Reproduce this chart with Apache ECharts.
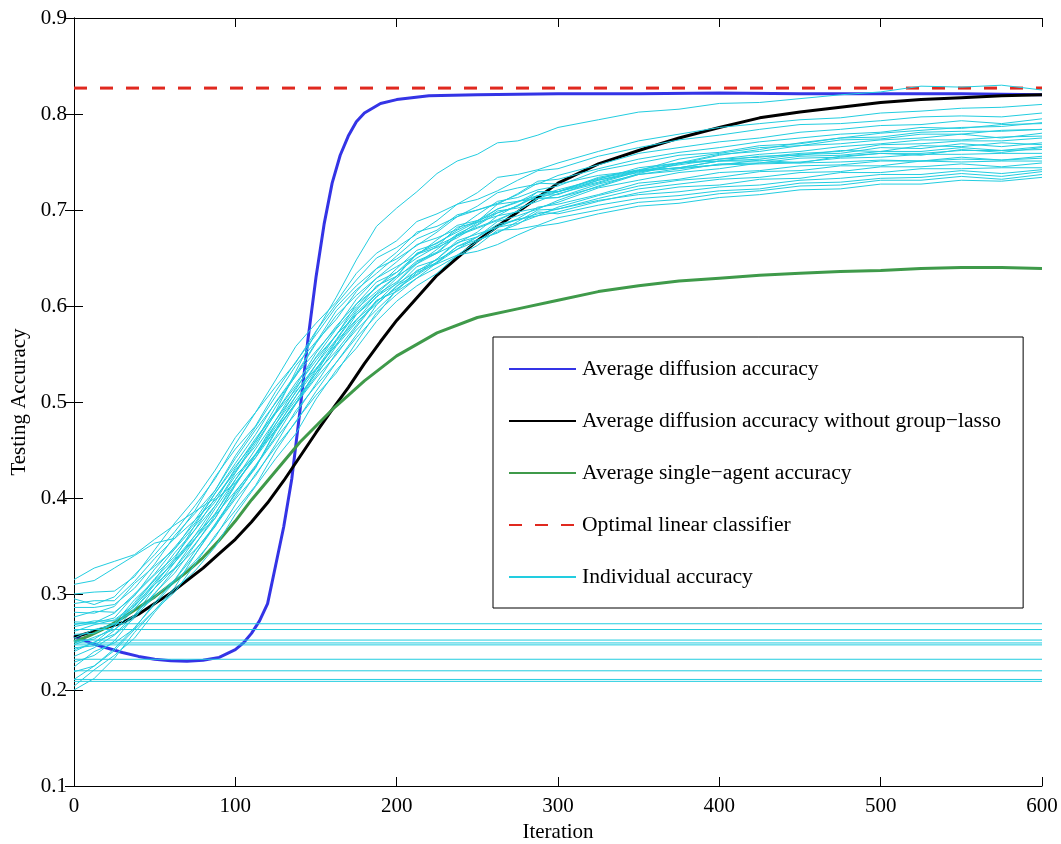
<!DOCTYPE html>
<html>
<head>
<meta charset="utf-8">
<script src="https://cdn.jsdelivr.net/npm/echarts@6/dist/echarts.min.js"></script>
<style>
  html, body { margin: 0; padding: 0; background: #fff; }
  #chart { width: 1061px; height: 844px; }
</style>
</head>
<body>
<div id="chart"></div>
<script>
// ---------------- data ----------------
const xTicks = [0, 100, 200, 300, 400, 500, 600];
const yTicks = [0.1, 0.2, 0.3, 0.4, 0.5, 0.6, 0.7, 0.8, 0.9];

// Average diffusion accuracy  [iteration, accuracy]
const blueCurve = [[0,0.256],[10,0.249],[20,0.244],[30,0.239],[40,0.235],[50,0.232],[60,0.2305],[70,0.230],[80,0.231],[90,0.234],[100,0.242],[105,0.249],[110,0.259],[115,0.272],[120,0.290],[125,0.330],[130,0.370],[135,0.420],[140,0.490],[145,0.565],[150,0.630],[155,0.685],[160,0.728],[165,0.757],[170,0.777],[175,0.792],[180,0.801],[190,0.811],[200,0.815],[220,0.819],[250,0.820],[300,0.821],[350,0.821],[400,0.822],[450,0.821],[500,0.821],[550,0.821],[600,0.820]];

// Average diffusion accuracy without group-lasso
const blackCurve = [[0,0.255],[10,0.260],[20,0.265],[30,0.270],[40,0.279],[50,0.290],[60,0.301],[70,0.314],[80,0.327],[90,0.342],[100,0.357],[110,0.375],[120,0.395],[130,0.418],[140,0.443],[150,0.468],[160,0.492],[170,0.515],[180,0.540],[190,0.563],[200,0.585],[225,0.632],[250,0.668],[275,0.698],[300,0.728],[325,0.748],[350,0.762],[375,0.775],[400,0.786],[425,0.796],[450,0.802],[475,0.807],[500,0.812],[525,0.815],[550,0.817],[575,0.819],[600,0.820]];

// Average single-agent accuracy
const greenCurve = [[0,0.250],[10,0.257],[20,0.265],[30,0.275],[40,0.286],[50,0.297],[60,0.310],[70,0.323],[80,0.338],[90,0.356],[100,0.376],[110,0.398],[120,0.418],[130,0.438],[140,0.458],[150,0.475],[160,0.492],[170,0.507],[180,0.522],[190,0.535],[200,0.548],[225,0.572],[250,0.588],[275,0.597],[300,0.606],[325,0.615],[350,0.621],[375,0.626],[400,0.629],[425,0.632],[450,0.634],[475,0.636],[500,0.637],[525,0.639],[550,0.640],[575,0.640],[600,0.639]];

// Optimal linear classifier
const optimalLevel = 0.827;

// Individual accuracy curves sampled at these iterations
const iters = [0,12.5,25,37.5,50,62.5,75,87.5,100,112.5,125,137.5,150,162.5,175,187.5,200,212.5,225,237.5,250,262.5,275,287.5,300,325,350,375,400,425,450,475,500,525,550,575,600];
const ind01 = [0.315,0.327,0.334,0.341,0.357,0.372,0.386,0.400,0.427,0.460,0.490,0.532,0.573,0.609,0.648,0.683,0.702,0.719,0.738,0.751,0.758,0.770,0.772,0.778,0.786,0.794,0.802,0.805,0.811,0.812,0.816,0.820,0.823,0.829,0.828,0.830,0.825];
const ind02 = [0.310,0.314,0.327,0.340,0.353,0.358,0.377,0.398,0.416,0.442,0.471,0.499,0.530,0.563,0.586,0.604,0.624,0.644,0.655,0.673,0.681,0.689,0.699,0.712,0.713,0.727,0.737,0.743,0.747,0.752,0.749,0.756,0.759,0.757,0.763,0.760,0.765];
const ind03 = [0.300,0.302,0.303,0.318,0.346,0.374,0.399,0.429,0.463,0.489,0.523,0.558,0.582,0.604,0.634,0.655,0.668,0.688,0.696,0.706,0.718,0.734,0.737,0.742,0.749,0.761,0.772,0.779,0.786,0.790,0.794,0.796,0.801,0.803,0.806,0.807,0.810];
const ind04 = [0.295,0.289,0.297,0.320,0.341,0.365,0.392,0.420,0.456,0.489,0.516,0.541,0.574,0.602,0.627,0.650,0.661,0.675,0.689,0.706,0.711,0.720,0.731,0.741,0.743,0.756,0.765,0.773,0.778,0.784,0.789,0.790,0.793,0.797,0.798,0.797,0.801];
const ind05 = [0.290,0.293,0.293,0.313,0.337,0.358,0.387,0.422,0.451,0.475,0.511,0.542,0.570,0.599,0.621,0.639,0.656,0.677,0.683,0.693,0.704,0.718,0.723,0.727,0.736,0.747,0.759,0.765,0.771,0.775,0.781,0.784,0.788,0.789,0.793,0.790,0.795];
const ind06 = [0.286,0.286,0.289,0.306,0.331,0.361,0.384,0.408,0.444,0.474,0.506,0.538,0.563,0.586,0.615,0.639,0.649,0.663,0.677,0.693,0.700,0.706,0.717,0.730,0.732,0.743,0.753,0.760,0.765,0.771,0.775,0.779,0.781,0.786,0.785,0.789,0.790];
const ind07 = [0.281,0.280,0.287,0.311,0.329,0.347,0.377,0.408,0.441,0.471,0.499,0.527,0.561,0.590,0.611,0.629,0.646,0.664,0.671,0.680,0.695,0.709,0.713,0.721,0.725,0.741,0.749,0.757,0.760,0.767,0.769,0.775,0.776,0.781,0.782,0.782,0.784];
const ind08 = [0.276,0.282,0.281,0.298,0.326,0.349,0.374,0.405,0.433,0.459,0.495,0.528,0.553,0.577,0.607,0.629,0.641,0.653,0.669,0.684,0.689,0.701,0.709,0.715,0.721,0.732,0.744,0.749,0.758,0.761,0.767,0.769,0.773,0.775,0.779,0.775,0.780];
const ind09 = [0.271,0.270,0.280,0.300,0.321,0.347,0.371,0.396,0.431,0.462,0.489,0.517,0.551,0.579,0.602,0.619,0.639,0.658,0.665,0.679,0.689,0.697,0.704,0.719,0.719,0.731,0.739,0.749,0.753,0.758,0.761,0.766,0.769,0.773,0.773,0.776,0.777];
const ind10 = [0.266,0.270,0.275,0.299,0.320,0.339,0.367,0.400,0.429,0.454,0.489,0.520,0.546,0.569,0.602,0.625,0.635,0.654,0.666,0.677,0.688,0.706,0.709,0.712,0.719,0.733,0.741,0.747,0.753,0.755,0.759,0.761,0.768,0.769,0.772,0.772,0.775];
const ind11 = [0.261,0.268,0.273,0.289,0.315,0.343,0.367,0.392,0.426,0.457,0.488,0.513,0.547,0.576,0.599,0.620,0.635,0.650,0.662,0.682,0.687,0.694,0.705,0.715,0.719,0.729,0.741,0.744,0.751,0.753,0.758,0.759,0.765,0.764,0.769,0.766,0.770];
const ind12 = [0.258,0.259,0.269,0.294,0.314,0.333,0.361,0.392,0.423,0.445,0.481,0.515,0.543,0.570,0.597,0.615,0.631,0.655,0.663,0.673,0.687,0.701,0.708,0.719,0.719,0.734,0.742,0.749,0.751,0.756,0.757,0.762,0.761,0.767,0.766,0.770,0.768];
const ind13 = [0.254,0.263,0.268,0.284,0.310,0.336,0.361,0.383,0.419,0.451,0.481,0.510,0.539,0.565,0.595,0.621,0.631,0.644,0.659,0.675,0.685,0.699,0.702,0.709,0.717,0.728,0.740,0.744,0.751,0.751,0.756,0.757,0.761,0.761,0.765,0.762,0.766];
const ind14 = [0.250,0.253,0.266,0.288,0.310,0.327,0.357,0.389,0.419,0.446,0.477,0.506,0.539,0.570,0.591,0.609,0.629,0.647,0.656,0.674,0.682,0.690,0.699,0.712,0.713,0.724,0.737,0.741,0.748,0.749,0.754,0.755,0.759,0.759,0.762,0.762,0.763];
const ind15 = [0.247,0.255,0.263,0.278,0.306,0.333,0.357,0.384,0.415,0.442,0.477,0.511,0.535,0.559,0.591,0.612,0.625,0.646,0.655,0.665,0.677,0.694,0.698,0.702,0.708,0.723,0.731,0.739,0.743,0.749,0.750,0.754,0.755,0.758,0.758,0.759,0.759];
const ind16 = [0.244,0.246,0.262,0.285,0.306,0.327,0.352,0.379,0.413,0.445,0.471,0.498,0.533,0.560,0.585,0.610,0.623,0.636,0.649,0.668,0.675,0.682,0.691,0.703,0.706,0.716,0.728,0.732,0.739,0.741,0.746,0.747,0.751,0.751,0.755,0.752,0.756];
const ind17 = [0.240,0.250,0.258,0.278,0.301,0.322,0.351,0.382,0.407,0.432,0.469,0.499,0.527,0.558,0.583,0.602,0.620,0.641,0.648,0.659,0.672,0.685,0.690,0.694,0.703,0.715,0.725,0.731,0.734,0.740,0.741,0.746,0.746,0.751,0.750,0.751,0.751];
const ind18 = [0.235,0.244,0.257,0.275,0.300,0.326,0.346,0.370,0.406,0.434,0.464,0.498,0.525,0.549,0.578,0.605,0.618,0.632,0.646,0.662,0.669,0.676,0.688,0.700,0.701,0.712,0.722,0.727,0.732,0.734,0.739,0.740,0.745,0.745,0.748,0.745,0.749];
const ind19 = [0.229,0.236,0.251,0.277,0.297,0.315,0.345,0.372,0.401,0.433,0.462,0.488,0.519,0.551,0.575,0.596,0.616,0.635,0.644,0.653,0.667,0.682,0.686,0.694,0.698,0.709,0.718,0.724,0.726,0.732,0.733,0.739,0.739,0.743,0.743,0.744,0.744];
const ind20 = [0.224,0.240,0.249,0.264,0.291,0.315,0.341,0.371,0.399,0.423,0.456,0.491,0.517,0.541,0.570,0.601,0.621,0.633,0.649,0.666,0.672,0.683,0.690,0.696,0.701,0.710,0.716,0.719,0.724,0.726,0.731,0.733,0.737,0.737,0.741,0.738,0.742];
const ind21 = [0.219,0.225,0.243,0.265,0.289,0.313,0.334,0.359,0.393,0.425,0.453,0.479,0.511,0.541,0.567,0.590,0.617,0.637,0.645,0.659,0.668,0.677,0.685,0.698,0.696,0.705,0.712,0.715,0.720,0.722,0.728,0.729,0.733,0.734,0.738,0.735,0.740];
const ind22 = [0.211,0.225,0.241,0.263,0.283,0.302,0.331,0.361,0.387,0.413,0.449,0.480,0.507,0.530,0.562,0.593,0.612,0.629,0.640,0.652,0.663,0.679,0.680,0.684,0.692,0.700,0.708,0.711,0.717,0.720,0.725,0.726,0.731,0.731,0.735,0.732,0.737];
const ind23 = [0.204,0.221,0.236,0.254,0.281,0.305,0.324,0.349,0.383,0.412,0.441,0.467,0.503,0.533,0.556,0.584,0.605,0.621,0.634,0.653,0.657,0.664,0.674,0.683,0.686,0.696,0.704,0.707,0.713,0.716,0.721,0.722,0.727,0.727,0.731,0.730,0.734];
const ind24 = [0.200,0.212,0.233,0.260,0.283,0.307,0.341,0.373,0.404,0.431,0.471,0.506,0.534,0.564,0.593,0.613,0.631,0.654,0.661,0.671,0.684,0.697,0.704,0.715,0.716,0.731,0.741,0.753,0.759,0.765,0.767,0.773,0.774,0.779,0.779,0.783,0.784];
const ind25 = [0.268,0.272,0.272,0.287,0.312,0.335,0.358,0.379,0.414,0.445,0.474,0.502,0.530,0.553,0.580,0.606,0.615,0.629,0.645,0.662,0.672,0.688,0.694,0.701,0.710,0.725,0.738,0.748,0.757,0.763,0.770,0.775,0.780,0.783,0.786,0.787,0.791];
const ind26 = [0.242,0.249,0.266,0.291,0.316,0.337,0.372,0.405,0.436,0.466,0.500,0.529,0.562,0.595,0.617,0.634,0.652,0.670,0.679,0.695,0.700,0.707,0.716,0.728,0.727,0.736,0.741,0.744,0.747,0.748,0.749,0.750,0.752,0.751,0.753,0.752,0.754];
const individualCurves = [ind01,ind02,ind03,ind04,ind05,ind06,ind07,ind08,ind09,ind10,ind11,ind12,ind13,ind14,ind15,ind16,ind17,ind18,ind19,ind20,ind21,ind22,ind23,ind24,ind25,ind26];

// Individual agents whose accuracy stays flat
const flatLevels = [0.269,0.263,0.252,0.249,0.247,0.232,0.220,0.211,0.209];

const names = ['Average diffusion accuracy','Average diffusion accuracy without group\u2212lasso','Average single\u2212agent accuracy','Optimal linear classifier','Individual accuracy'];

// ---------------- chart ----------------
const FONT = '"Liberation Serif","Times New Roman",Times,serif';
const CYAN = '#22cde0';
const chart = echarts.init(document.getElementById('chart'), null, {renderer: 'canvas'});

const series = [];
series.push({name: names[0], type: 'line', data: blueCurve, showSymbol: false, symbol: 'none', z: 3,
  lineStyle: {color: '#3434e6', width: 3}, itemStyle: {color: '#3434e6'}});
series.push({name: names[1], type: 'line', data: blackCurve, showSymbol: false, symbol: 'none', z: 3,
  lineStyle: {color: '#000000', width: 3}, itemStyle: {color: '#000000'}});
series.push({name: names[2], type: 'line', data: greenCurve, showSymbol: false, symbol: 'none', z: 3,
  lineStyle: {color: '#3f9a4a', width: 3}, itemStyle: {color: '#3f9a4a'}});
series.push({name: names[3], type: 'line', data: [[xTicks[0], optimalLevel], [xTicks[xTicks.length-1], optimalLevel]], showSymbol: false, symbol: 'none', z: 3,
  lineStyle: {color: '#e0291f', width: 3, type: [13, 13]}, itemStyle: {color: '#e0291f'}});
individualCurves.forEach(arr => {
  series.push({name: names[4], type: 'line', data: iters.map((x, i) => [x, arr[i]]), showSymbol: false, symbol: 'none', z: 4,
    lineStyle: {color: CYAN, width: 1}, itemStyle: {color: CYAN}});
});
flatLevels.forEach(v => {
  series.push({name: names[4], type: 'line', data: [[xTicks[0], v], [xTicks[xTicks.length-1], v]], showSymbol: false, symbol: 'none', z: 4,
    lineStyle: {color: CYAN, width: 1}, itemStyle: {color: CYAN}});
});

const axisLineCfg = {show: true, lineStyle: {color: '#000', width: 1}};
const tickCfg = {show: true, inside: true, length: 9, lineStyle: {color: '#000', width: 1}};

chart.setOption({
  animation: false,
  backgroundColor: '#fff',
  grid: {left: 74, right: 19, top: 18, bottom: 58, containLabel: false, outerBoundsMode: 'none'},
  legend: {
    data: names, orient: 'vertical', left: 493, top: 337,
    itemWidth: 67, itemHeight: 21, itemGap: 30,
    padding: [21, 22, 20, 15],
    borderColor: '#000', borderWidth: 1, backgroundColor: '#fff',
    selectedMode: false,
    itemStyle: {opacity: 0},
    textStyle: {fontFamily: FONT, fontSize: 21.6, color: '#000', lineHeight: 21, padding: [0, 0, 0, 1]}
  },
  xAxis: [
    {type: 'value', min: xTicks[0], max: xTicks[xTicks.length-1], interval: 100, position: 'bottom',
     axisLine: axisLineCfg, axisTick: tickCfg, splitLine: {show: false},
     axisLabel: {color: '#000', fontFamily: FONT, fontSize: 21, margin: 10},
     name: 'Iteration', nameLocation: 'middle', nameGap: 36,
     nameTextStyle: {color: '#000', fontFamily: FONT, fontSize: 21}},
    {type: 'value', min: xTicks[0], max: xTicks[xTicks.length-1], interval: 100, position: 'top',
     axisLine: axisLineCfg, axisTick: tickCfg, splitLine: {show: false}, axisLabel: {show: false}}
  ],
  yAxis: [
    {type: 'value', min: yTicks[0], max: yTicks[yTicks.length-1], interval: 0.1, position: 'left',
     axisLine: axisLineCfg, axisTick: tickCfg, splitLine: {show: false},
     axisLabel: {color: '#000', fontFamily: FONT, fontSize: 21, margin: 7, formatter: v => v.toFixed(1)},
     name: 'Testing Accuracy', nameLocation: 'middle', nameGap: 42,
     nameTextStyle: {color: '#000', fontFamily: FONT, fontSize: 21}},
    {type: 'value', min: yTicks[0], max: yTicks[yTicks.length-1], interval: 0.1, position: 'right',
     axisLine: axisLineCfg, axisTick: tickCfg, splitLine: {show: false}, axisLabel: {show: false}}
  ],
  series: series
});
</script>
</body>
</html>
